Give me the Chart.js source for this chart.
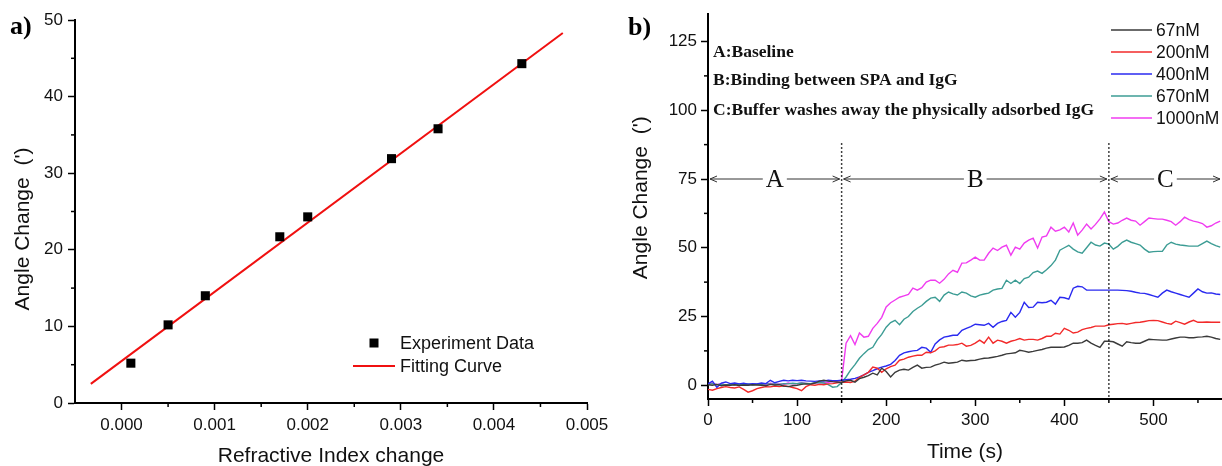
<!DOCTYPE html>
<html><head><meta charset="utf-8">
<script src="https://cdn.jsdelivr.net/npm/chart.js@4.4.0/dist/chart.umd.min.js"></script>
<style>
html,body{margin:0;padding:0;background:#fff;overflow:hidden;width:1222px;height:466px;}
#ca{position:absolute;left:0;top:0;}
#cb{position:absolute;left:615px;top:0;}
</style></head><body>
<canvas id="ca" width="615" height="472"></canvas>
<canvas id="cb" width="607" height="466"></canvas>
<script>
// ---------- Panel a data ----------
const refrIndex   = [0.0001, 0.0005, 0.0009, 0.0017, 0.0020, 0.0029, 0.0034, 0.0043];
const angleChange = [5.2, 10.2, 14.0, 21.7, 24.3, 31.9, 35.8, 44.3];
const fitX = [-0.00033, 0.00474];
const fitY = [2.5, 48.3];
const aXTicks = [0, 0.001, 0.002, 0.003, 0.004, 0.005];
const aXTickLabels = ['0.000', '0.001', '0.002', '0.003', '0.004', '0.005'];
const aYTicks = [0, 10, 20, 30, 40, 50];
const aXMinor = [0.0005, 0.0015, 0.0025, 0.0035, 0.0045];
const aYMinor = [5, 15, 25, 35, 45];

// ---------- Panel b data ----------
const times = [
  0,5,10,15,20,25,30,35,40,45,50,55,60,65,70,75,80,85,90,95,
  100,105,110,115,120,125,130,135,140,145,150,155,160,165,170,175,180,185,190,195,
  200,205,210,215,220,225,230,235,240,245,250,255,260,265,270,275,280,285,290,295,
  300,305,310,315,320,325,330,335,340,345,350,355,360,365,370,375,380,385,390,395,
  400,405,410,415,420,425,430,435,440,445,450,455,460,465,470,475,480,485,490,495,
  500,505,510,515,520,525,530,535,540,545,550,555,560,565,570,575];
const s67nM = [
  0.2,0.0,0.3,-0.2,0.1,0.0,0.2,-0.1,0.1,0.0, 0.2,0.1,0.0,-0.2,0.3,0.1,0.2,-0.3,-0.5,-0.2,
  0.0,0.3,0.5,0.4,0.8,1.5,1.8,1.5,1.3,1.2,
  1.0,1.6,1.8,1.1,2.4,2.9,3.5,4.4,3.8,6.2, 5.0,3.0,4.7,5.5,5.8,5.5,6.5,7.3,6.2,6.5,
  6.6,7.3,7.8,8.4,8.0,8.2,8.4,9.1,8.8,9.0, 9.1,9.5,9.8,9.9,10.2,10.5,10.9,11.4,11.6,11.8,
  12.7,12.4,12.0,12.3,12.7,13.0,13.5,13.8,13.8,13.8, 13.9,14.5,15.3,15.3,15.5,16.4,15.3,14.5,13.8,16.0,
  16.0,15.8,15.0,14.2,15.8,15.5,15.3,15.3,16.0,16.7, 16.6,16.5,16.4,16.4,16.8,17.2,17.5,17.5,17.3,17.3,
  17.5,17.6,17.8,17.5,17.0,16.7];
const s200nM = [
  -1.5,-1.8,-1.2,-0.8,-0.5,-0.8,-1.0,-0.6,-1.5,-2.5, -2.0,-1.2,-0.8,-0.5,-0.6,-0.3,-0.5,-0.2,-0.4,-0.8,
  -1.2,-2.0,-0.5,0.2,0.0,0.3,0.2,0.5,0.6,0.9,
  1.1,1.2,1.0,1.5,2.9,3.8,4.7,6.6,6.2,4.7, 6.0,6.8,7.3,9.1,9.5,10.2,10.6,10.9,10.9,12.0,
  11.8,12.5,13.8,14.0,14.6,14.6,14.8,15.3,14.2,14.5, 15.3,16.4,15.3,17.5,15.3,16.4,16.0,15.3,16.0,16.4,
  17.0,16.4,16.7,16.7,16.4,17.0,17.8,17.8,18.9,18.6, 20.7,20.0,19.0,19.3,20.2,20.7,21.0,21.5,21.5,21.5,
  22.0,22.2,22.4,22.5,22.2,22.5,22.8,22.9,23.2,23.5, 23.6,23.5,23.0,22.5,22.2,23.3,22.8,22.2,23.0,23.6,
  22.9,22.9,23.0,22.9,22.9,22.9];
const s400nM = [
  0.5,1.5,-0.8,0.8,1.2,0.6,0.8,0.5,0.7,0.4, 0.6,0.5,0.8,0.6,1.8,0.9,1.4,1.8,1.6,1.8,
  1.7,1.8,1.6,1.5,1.4,1.6,1.5,1.8,1.7,1.7,
  1.8,2.0,2.2,2.5,3.0,3.8,4.7,5.3,6.0,6.6, 7.0,7.6,9.0,10.9,11.8,12.2,12.5,12.7,13.8,13.5,
  12.0,15.0,16.5,17.5,17.8,18.2,18.2,20.0,20.7,21.3, 22.2,22.0,21.8,22.5,21.1,22.5,23.2,23.6,26.5,24.7,
  26.5,30.2,28.3,28.4,30.2,30.0,30.2,30.9,29.5,32.0, 31.8,31.3,35.3,36.0,35.8,34.6,34.6,34.6,34.6,34.6,
  34.6,34.6,34.6,34.5,34.4,34.2,33.8,33.5,33.4,33.0, 32.5,32.0,33.5,34.6,34.0,33.5,33.0,32.5,32.0,33.5,
  35.0,34.0,33.5,33.6,33.2,33.0];
const s670nM = [
  0.3,0.6,0.2,0.4,0.1,0.3,0.2,0.4,0.3,0.5, 0.2,0.4,0.3,0.6,0.4,0.5,0.3,0.6,0.5,0.7,
  0.6,0.8,0.7,0.6,0.9,1.0,0.8,0.2,-0.7,-0.5,
  1.0,3.0,5.5,7.5,9.8,11.5,13.0,13.8,16.5,18.5, 21.1,22.8,23.6,22.0,24.0,25.0,26.8,28.0,29.0,30.5,
  31.7,32.0,30.5,32.8,33.9,33.2,32.8,33.9,33.5,32.5, 32.0,32.8,33.2,33.5,34.6,35.0,35.2,38.2,37.0,38.2,
  37.0,38.8,39.3,41.0,41.5,40.7,42.0,43.5,45.5,49.1, 50.0,50.9,49.5,48.5,48.0,50.0,52.0,51.0,50.6,51.7,
  51.3,49.5,50.5,52.0,52.8,52.0,51.5,51.0,49.5,48.4, 48.6,48.7,48.7,51.0,52.0,51.3,51.0,50.8,50.6,50.6,
  50.6,51.5,52.4,51.5,50.8,50.2];
const s1000nM = [
  0.5,0.8,0.2,0.6,0.0,0.4,0.3,0.1,0.5,0.2, 0.4,0.3,0.6,0.2,0.7,0.4,0.5,0.3,0.8,0.5,
  0.6,0.9,0.7,0.5,0.8,1.0,0.8,1.1,1.3,1.5,
  1.8,15.3,18.0,14.8,19.0,17.5,17.8,20.7,22.5,24.7, 28.5,30.0,31.0,32.0,32.5,33.0,35.3,34.6,35.5,37.5,
  38.2,38.2,37.1,38.5,40.5,41.8,41.1,44.4,44.5,45.5, 46.6,45.5,45.5,48.0,49.9,49.0,50.2,50.9,47.3,50.2,
  49.5,51.7,52.8,53.5,49.9,53.9,54.3,57.5,56.0,56.5, 57.5,55.7,59.0,54.6,56.4,58.6,56.8,58.5,60.5,63.0,
  59.5,58.6,59.0,60.0,60.8,60.0,59.7,58.2,59.5,60.8, 60.6,60.4,60.4,60.0,59.5,58.2,59.5,61.1,60.2,59.7,
  59.3,58.8,57.5,58.0,59.0,59.7];
const seriesLabels = ['67nM', '200nM', '400nM', '670nM', '1000nM'];
const seriesColors = ['#3a3a3a', '#f22a2a', '#2a2af0', '#3c9c94', '#f03cf0'];
const bXTicks = [0, 100, 200, 300, 400, 500];
const bYTicks = [0, 25, 50, 75, 100, 125];
const bXMinor = [50, 150, 250, 350, 450, 550];
const bYMinor = [12.5, 37.5, 62.5, 87.5, 112.5];
const phaseBounds = [0, 150, 450, 577];
const phaseNames = ['A', 'B', 'C'];
const phaseNotes = ['A:Baseline', 'B:Binding between SPA and IgG', 'C:Buffer washes away the physically adsorbed IgG'];

// ---------- common ----------
const SANS = "'Liberation Sans', Arial, sans-serif";
const SERIF = "'Liberation Serif', 'Times New Roman', serif";
Chart.defaults.font.family = SANS;
Chart.defaults.color = '#111';
Chart.defaults.animation = false;

function seg(ctx, x1, y1, x2, y2) { ctx.beginPath(); ctx.moveTo(x1, y1); ctx.lineTo(x2, y2); ctx.stroke(); }

const minorTicks = {
  id: 'minorTicks',
  afterDraw(chart, args, o) {
    const {ctx, chartArea: a, scales} = chart;
    ctx.save(); ctx.strokeStyle = '#000'; ctx.lineWidth = 1.5;
    o.x.forEach(v => { const p = scales.x.getPixelForValue(v); seg(ctx, p, a.bottom, p, a.bottom + o.len); });
    o.y.forEach(v => { const p = scales.y.getPixelForValue(v); seg(ctx, a.left - o.len, p, a.left, p); });
    ctx.restore();
  }
};
const panelLabel = {
  id: 'panelLabel',
  afterDraw(chart, args, o) {
    const ctx = chart.ctx; ctx.save();
    ctx.font = 'bold 26px ' + SERIF; ctx.fillStyle = '#000'; ctx.textBaseline = 'alphabetic';
    ctx.fillText(o.text, o.x, o.y); ctx.restore();
  }
};
function axisCommon(ticksVals, labels, fontSize, pad) {
  return {
    afterBuildTicks: s => { s.ticks = ticksVals.map(v => ({value: v})); },
    grid: {display: true, drawOnChartArea: false, drawTicks: true, tickLength: 7, tickWidth: 1.5, tickColor: '#000'},
    border: {display: true, color: '#000', width: 2},
    ticks: {font: {size: fontSize}, color: '#111', padding: pad, maxRotation: 0, autoSkip: false,
      callback: (v) => { const i = ticksVals.indexOf(v); return labels ? labels[i] : String(v); }}
  };
}

// ---------- Panel a ----------
const legendA = {
  id: 'legendA',
  afterDraw(chart) {
    const ctx = chart.ctx, ds = chart.data.datasets;
    ctx.save(); ctx.font = '18px ' + SANS; ctx.textBaseline = 'middle';
    ctx.fillStyle = ds[0].backgroundColor; ctx.fillRect(374 - 4.5, 343 - 4.5, 9, 9);
    ctx.fillStyle = '#111'; ctx.fillText(ds[0].label, 400, 344);
    ctx.strokeStyle = ds[1].borderColor; ctx.lineWidth = 2; seg(ctx, 353, 366, 395, 366);
    ctx.fillStyle = '#111'; ctx.fillText(ds[1].label, 400, 367);
    ctx.restore();
  }
};
const ax = axisCommon(aXTicks, aXTickLabels, 17, 5);
const ay = axisCommon(aYTicks, null, 17, 5);
new Chart(document.getElementById('ca'), {
  type: 'scatter',
  data: {
    datasets: [
      {label: 'Experiment Data', data: refrIndex.map((x, i) => ({x, y: angleChange[i]})),
       pointStyle: 'rect', pointRadius: 6.4, backgroundColor: '#000', borderColor: '#000', borderWidth: 0, showLine: false},
      {label: 'Fitting Curve', data: fitX.map((x, i) => ({x, y: fitY[i]})),
       showLine: true, pointRadius: 0, borderColor: '#f01010', borderWidth: 2, backgroundColor: '#f01010'}
    ]
  },
  options: {
    responsive: false, animation: false,
    layout: {padding: {left: 0, top: 20, right: 28, bottom: 0}},
    plugins: {legend: {display: false}, tooltip: {enabled: false},
      minorTicks: {x: aXMinor, y: aYMinor, len: 4}, panelLabel: {text: 'a)', x: 10, y: 34}},
    scales: {
      x: Object.assign({}, ax, {type: 'linear', min: -0.0005, max: 0.005,
        afterFit: s => { s.height = 69; s.paddingLeft = 0; s.paddingRight = 0; },
        title: {display: true, text: 'Refractive Index change', font: {size: 21}, color: '#111', padding: {top: 0, bottom: 3}}}),
      y: Object.assign({}, ay, {type: 'linear', min: 0, max: 50,
        afterFit: s => { s.width = 75; s.paddingTop = 0; s.paddingBottom = 0; },
        title: {display: true, text: "Angle Change  (')      ", font: {size: 21}, color: '#111', padding: {top: 11, bottom: 0}}})
    }
  },
  plugins: [minorTicks, panelLabel, legendA]
});

// ---------- Panel b ----------
const seriesValues = [s67nM, s200nM, s400nM, s670nM, s1000nM];
const phasesPlugin = {
  id: 'phases',
  afterDatasetsDraw(chart) {
    const {ctx, chartArea: a, scales: {x, y}} = chart;
    ctx.save();
    // dotted separators
    ctx.strokeStyle = '#000'; ctx.lineWidth = 1.5; ctx.setLineDash([1.5, 2.5]);
    [phaseBounds[1], phaseBounds[2]].forEach(t => { const p = x.getPixelForValue(t); seg(ctx, p, y.getPixelForValue(88), p, a.bottom); });
    ctx.setLineDash([]);
    // arrows
    const py = y.getPixelForValue(75);
    ctx.strokeStyle = '#333'; ctx.lineWidth = 1; ctx.fillStyle = '#111';
    ctx.font = '25px ' + SERIF; ctx.textAlign = 'center'; ctx.textBaseline = 'middle';
    for (let i = 0; i < 3; i++) {
      const x1 = x.getPixelForValue(phaseBounds[i]) + 2, x2 = Math.min(x.getPixelForValue(phaseBounds[i + 1]), a.right) - 2;
      const mid = (x1 + x2) / 2, w = ctx.measureText(phaseNames[i]).width / 2 + 3;
      seg(ctx, x1, py, mid - w, py); seg(ctx, mid + w, py, x2, py);
      ctx.beginPath(); ctx.moveTo(x1 + 7, py - 3); ctx.lineTo(x1, py); ctx.lineTo(x1 + 7, py + 3); ctx.stroke();
      ctx.beginPath(); ctx.moveTo(x2 - 7, py - 3); ctx.lineTo(x2, py); ctx.lineTo(x2 - 7, py + 3); ctx.stroke();
      ctx.fillText(phaseNames[i], mid, py + 1);
    }
    // notes
    ctx.font = 'bold 17.5px ' + SERIF; ctx.textAlign = 'left'; ctx.fillStyle = '#111';
    const noteY = [121, 111, 100];
    phaseNotes.forEach((t, i) => ctx.fillText(t, a.left + 5, y.getPixelForValue(noteY[i])));
    ctx.restore();
  }
};
const legendB = {
  id: 'legendB',
  afterDraw(chart) {
    const ctx = chart.ctx;
    ctx.save(); ctx.font = '17.5px ' + SANS; ctx.textBaseline = 'middle'; ctx.textAlign = 'left';
    chart.data.datasets.forEach((d, i) => {
      const yy = 30 + i * 22;
      ctx.strokeStyle = d.borderColor; ctx.lineWidth = 1.5; seg(ctx, 496, yy, 537, yy);
      ctx.fillStyle = '#111'; ctx.fillText(d.label, 541, yy + 1);
    });
    ctx.restore();
  }
};
const bx = axisCommon(bXTicks, null, 17, 4);
const by = axisCommon(bYTicks, null, 17, 4);
new Chart(document.getElementById('cb'), {
  type: 'line',
  data: {
    datasets: seriesLabels.map((lab, k) => ({
      label: lab, data: times.map((t, i) => ({x: t, y: seriesValues[k][i]})),
      borderColor: seriesColors[k], backgroundColor: seriesColors[k], borderWidth: 1.4, pointRadius: 0, tension: 0, fill: false
    }))
  },
  options: {
    responsive: false, animation: false,
    layout: {padding: {left: 0, top: 14, right: 0, bottom: 0}},
    plugins: {legend: {display: false}, tooltip: {enabled: false},
      minorTicks: {x: bXMinor, y: bYMinor, len: 4}, panelLabel: {text: 'b)', x: 13, y: 35}},
    scales: {
      x: Object.assign({}, bx, {type: 'linear', min: 0, max: 577,
        afterFit: s => { s.height = 67; s.paddingLeft = 0; s.paddingRight = 0; },
        title: {display: true, text: 'Time (s)', font: {size: 21}, color: '#111', padding: {top: 0, bottom: 1}}}),
      y: Object.assign({}, by, {type: 'linear', min: -5, max: 135,
        afterFit: s => { s.width = 93; s.paddingTop = 0; s.paddingBottom = 0; },
        title: {display: true, text: "   Angle Change  (')", font: {size: 21}, color: '#111', padding: {top: 14, bottom: 0}}})
    }
  },
  plugins: [minorTicks, panelLabel, phasesPlugin, legendB]
});
</script></body></html>
